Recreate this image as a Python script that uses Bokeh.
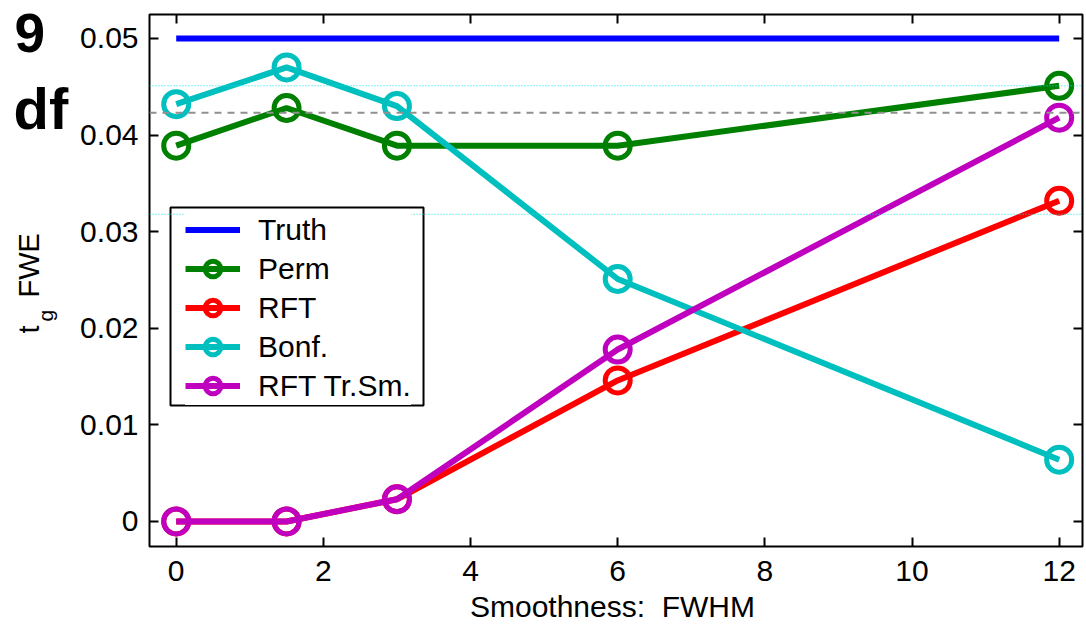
import math
from bokeh.plotting import figure
from bokeh.layouts import column
from bokeh.models import (Range1d, LinearAxis, FixedTicker, Legend, LegendItem,
                          Span, Label, BoxAnnotation)
from bokeh.embed import file_html
from bokeh.resources import INLINE

# ---- data ----
fwhm = [0, 1.5, 3, 6, 12]
perm = [0.0389, 0.0428, 0.0389, 0.0389, 0.0451]
rft = [0.0, 0.0, 0.0023, 0.0146, 0.0332]
bonf = [0.0432, 0.0470, 0.0430, 0.0251, 0.0064]
rft_trsm = [0.0, 0.0, 0.0023, 0.0178, 0.0418]
truth_x = [0, 12]
truth_y = [0.05, 0.05]
ci_bounds = [0.0451, 0.0318]
perm_mean = 0.0423

x_ticks = [0, 2, 4, 6, 8, 10, 12]
y_ticks = [0, 0.01, 0.02, 0.03, 0.04, 0.05]
y_tick_labels = ["0", "0.01", "0.02", "0.03", "0.04", "0.05"]

FONT = "Liberation Sans"
W, H = 1086, 626

p = figure(width=W, height=H, output_backend="svg", toolbar_location=None,
           x_range=Range1d(-0.363, 12.317), y_range=Range1d(-0.00259, 0.05248),
           min_border_left=149, min_border_right=4, min_border_top=14,
           min_border_bottom=80, x_axis_location=None, y_axis_location=None)
p.frame_align = False
p.grid.visible = False
p.outline_line_color = "black"
p.outline_line_width = 2
p.background_fill_color = "white"
p.border_fill_color = "white"


def style_axis(ax, ticks, labels=True, overrides=None):
    ax.ticker = FixedTicker(ticks=ticks)
    ax.major_tick_in = 9
    ax.major_tick_out = 0
    ax.minor_tick_line_color = None
    ax.major_tick_line_color = "black"
    ax.major_tick_line_width = 2
    ax.axis_line_color = None
    if labels:
        ax.major_label_text_font = FONT
        ax.major_label_text_font_size = "30px"
        ax.major_label_text_color = "black"
        if overrides:
            ax.major_label_overrides = overrides
    else:
        ax.major_label_overrides = {t: "" for t in ticks}
        ax.major_label_text_font_size = "8px"
        ax.major_label_standoff = 0


bottom = LinearAxis()
style_axis(bottom, x_ticks)
bottom.major_label_standoff = 14
p.add_layout(bottom, "below")

left = LinearAxis()
style_axis(left, y_ticks, overrides={t: l for t, l in zip(y_ticks, y_tick_labels)})
left.major_label_standoff = 11
p.add_layout(left, "left")

top = LinearAxis()
style_axis(top, x_ticks, labels=False)
p.add_layout(top, "above")

right = LinearAxis()
style_axis(right, y_ticks, labels=False)
p.add_layout(right, "right")

# ---- series ----
LW = 6
MS = 25
MLW = 5

r_truth = p.line(truth_x, truth_y, line_color="#0000ff", line_width=LW)

series = [
    ("Perm", perm, "#008000"),
    ("RFT", rft, "#ff0000"),
    ("Bonf.", bonf, "#00bfbf"),
    ("RFT Tr.Sm.", rft_trsm, "#bf00bf"),
]
items = [LegendItem(label="Truth", renderers=[r_truth])]
for name, ys, col in series:
    rl = p.line(fwhm, ys, line_color=col, line_width=LW)
    rs = p.scatter(fwhm, ys, marker="circle", size=MS, fill_color=None,
                   line_color=col, line_width=MLW)
    items.append(LegendItem(label=name, renderers=[rl, rs]))

legend = Legend(items=items, location=(36, 141), orientation="vertical")
legend.label_text_font = FONT
legend.label_text_font_size = "30px"
legend.label_text_color = "black"
legend.glyph_width = 55
legend.glyph_height = 39
legend.label_height = 30
legend.label_standoff = 18
legend.spacing = 0
legend.padding = 2
legend.margin = 0
legend.border_line_color = None
legend.background_fill_color = "white"
legend.background_fill_alpha = 1.0
p.add_layout(legend, "center")

# legend frame (layout position of the legend box, converted to data units)
p.add_layout(BoxAnnotation(left=-0.0775, right=3.361, top=0.03251, bottom=0.01201,
                           fill_color=None, fill_alpha=0, line_color="black",
                           line_alpha=1.0, line_width=2))

# ---- reference lines (drawn over everything) ----
for b in ci_bounds:
    p.add_layout(Span(location=b, dimension="width", line_color="#00e5e5",
                      line_width=1, line_dash="1 2"))
p.add_layout(Span(location=perm_mean, dimension="width", line_color="#909090",
                  line_width=2, line_dash="7 6"))

# ---- transparent overlay carrying the texts that sit outside the frame ----
ov = figure(width=W, height=H, output_backend="svg", toolbar_location=None,
            x_range=Range1d(0, W), y_range=Range1d(H, 0), min_border=0,
            x_axis_location=None, y_axis_location=None)
ov.frame_align = False
ov.grid.visible = False
ov.outline_line_color = None
ov.background_fill_color = None
ov.border_fill_color = None
ov.margin = (-H, 0, 0, 0)


def txt(x, y, s, size, bold=False, angle=0.0, align="left"):
    ov.add_layout(Label(x=x, y=y, text=s, text_font=FONT, text_font_size=size,
                        text_font_style="bold" if bold else "normal",
                        text_color="black", angle=angle,
                        text_baseline="middle", text_align=align))


txt(14, 32, "9", "55px", bold=True)
txt(13, 108, "df", "58px", bold=True)

txt(28, 333, "t", "29px", angle=math.pi / 2)
txt(45, 321, "g", "21px", angle=math.pi / 2)
txt(28, 297, "FWE", "29px", angle=math.pi / 2)

txt(612, 606, "Smoothness:\u00a0 FWHM", "30px", align="center")

layout = column(p, ov, spacing=0)
open("out.html", "w").write(file_html(layout, INLINE))
